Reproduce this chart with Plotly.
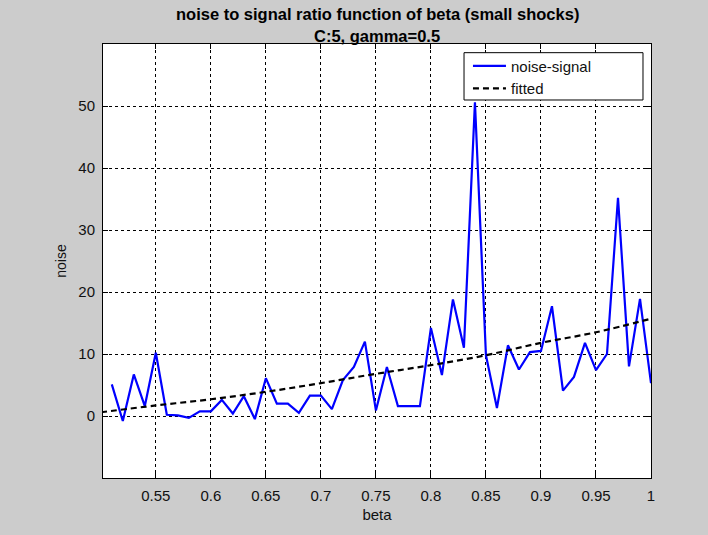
import plotly.graph_objects as go

beta = [0.51, 0.52, 0.53, 0.54, 0.55, 0.56, 0.57, 0.58, 0.59, 0.60,
        0.61, 0.62, 0.63, 0.64, 0.65, 0.66, 0.67, 0.68, 0.69, 0.70,
        0.71, 0.72, 0.73, 0.74, 0.75, 0.76, 0.77, 0.78, 0.79, 0.80,
        0.81, 0.82, 0.83, 0.84, 0.85, 0.86, 0.87, 0.88, 0.89, 0.90,
        0.91, 0.92, 0.93, 0.94, 0.95, 0.96, 0.97, 0.98, 0.99, 1.00]
noise_signal = [5.1, -0.8, 6.7, 1.6, 10.2, 0.2, 0.1, -0.3, 0.75, 0.75,
                2.6, 0.4, 3.2, -0.5, 6.1, 2.0, 2.0, 0.5, 3.3, 3.3,
                1.1, 5.8, 7.9, 12.0, 0.9, 7.9, 1.6, 1.6, 1.6, 14.2,
                6.6, 18.8, 11.0, 50.6, 9.8, 1.3, 11.4, 7.5, 10.3, 10.5,
                17.7, 4.1, 6.3, 11.8, 7.4, 10.0, 35.2, 8.0, 18.9, 5.3]

fit_beta = [0.50, 0.55, 0.60, 0.65, 0.70, 0.75, 0.80, 0.85, 0.90, 0.95, 1.00]
fitted = [0.6, 1.7, 2.7, 3.9, 5.3, 6.8, 8.2, 9.8, 11.8, 13.5, 15.7]

x_ticks = [0.55, 0.6, 0.65, 0.7, 0.75, 0.8, 0.85, 0.9, 0.95, 1.0]
x_labels = ["0.55", "0.6", "0.65", "0.7", "0.75", "0.8", "0.85", "0.9", "0.95", "1"]
y_ticks = [0, 10, 20, 30, 40, 50]

title_lines = ["noise to signal ratio function of beta (small shocks)", "C:5, gamma=0.5"]

font = "Liberation Sans, Arial, sans-serif"

fig = go.Figure()
fig.add_trace(go.Scatter(x=beta, y=noise_signal, mode="lines", name="noise-signal",
                         line=dict(color="#0000ff", width=2.2)))
fig.add_trace(go.Scatter(x=fit_beta, y=fitted, mode="lines", name="fitted",
                         line=dict(color="black", width=2.2, dash="6px,4px", shape="spline")))

axis_common = dict(showline=True, linecolor="black", linewidth=1, mirror="allticks",
                   ticks="inside", ticklen=5, tickcolor="black",
                   showgrid=True, gridcolor="black", gridwidth=1, griddash="3px,3px",
                   zeroline=False, tickfont=dict(family=font, size=15, color="#111111"))

fig.update_layout(
    width=708, height=535,
    paper_bgcolor="#cccccc", plot_bgcolor="white",
    margin=dict(l=103, r=57, t=44, b=57),
    xaxis=dict(range=[0.502, 1.0], tickvals=x_ticks, ticktext=x_labels, ticklabelstandoff=4,
               title=dict(text="beta", font=dict(family=font, size=15, color="#111111"), standoff=6),
               **axis_common),
    yaxis=dict(range=[-10, 60], tickvals=y_ticks, ticklabelstandoff=4,
               title=dict(text="noise", font=dict(family=font, size=14, color="#111111"), standoff=8),
               **axis_common),
    legend=dict(x=0.666, y=0.987, xanchor="left", yanchor="top",
                bgcolor="rgba(0,0,0,0)", borderwidth=0,
                font=dict(family=font, size=15, color="#111111"),
                itemwidth=33, tracegroupgap=0),
    showlegend=True,
)

# title lines
fig.add_annotation(text="<b>%s</b>" % title_lines[0], xref="paper", yref="paper",
                   x=0.5, y=1.068, xanchor="center", yanchor="middle", showarrow=False,
                   font=dict(family=font, size=16.5, color="black"))
fig.add_annotation(text="<b>%s</b>" % title_lines[1], xref="paper", yref="paper",
                   x=0.5, y=1.018, xanchor="center", yanchor="middle", showarrow=False,
                   font=dict(family=font, size=16.5, color="black"))

# legend frame
fig.add_shape(type="rect", xref="paper", yref="paper", x0=0.6588, x1=0.9854, y0=0.871, y1=0.980,
              line=dict(color="black", width=1), fillcolor="white", layer="above")

fig.write_html("out.html", config={"displayModeBar": False},
               post_script="document.body.style.margin='0';document.body.style.background='#cccccc';")
